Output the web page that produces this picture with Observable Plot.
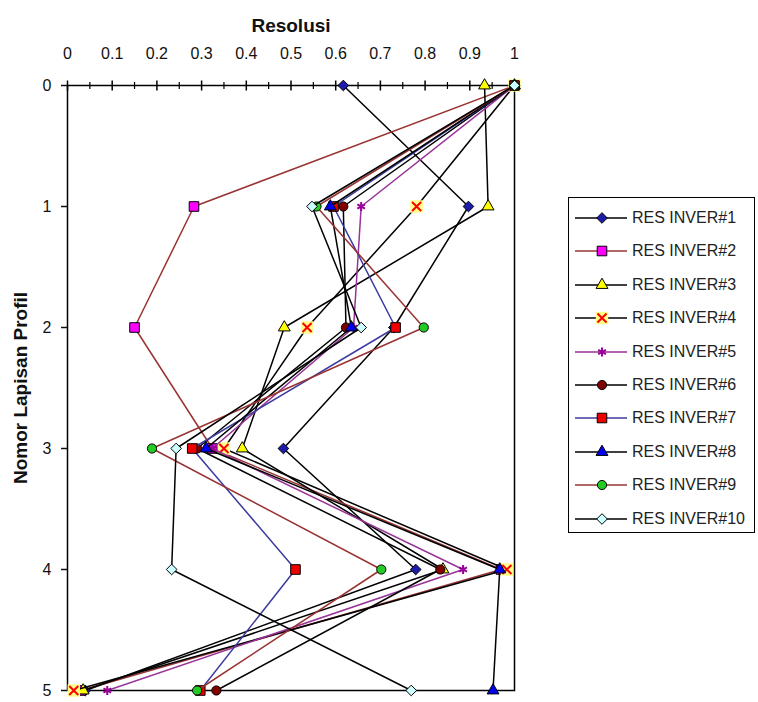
<!DOCTYPE html>
<html><head><meta charset="utf-8">
<script src="https://cdn.jsdelivr.net/npm/d3@7"></script>
<script src="https://cdn.jsdelivr.net/npm/@observablehq/plot@0.6"></script>
<style>
body{margin:0;background:#fff;font-family:"Liberation Sans",Arial,sans-serif;}
#wrap{position:relative;width:758px;height:702px;}
#legend{position:absolute;left:568px;top:197px;width:187px;height:336px;border:1.5px solid #000;box-sizing:border-box;background:#fff;}
.row{position:absolute;left:0;height:20px;width:186px;}
.row svg{position:absolute;left:0;top:0;}
.row span{position:absolute;left:63px;top:0;line-height:20px;font-size:16px;color:#222;white-space:nowrap;}
</style></head><body><div id="wrap"><div id="chart"></div><div id="legend"></div></div>
<script>
const layers = [0, 1, 2, 3, 4, 5];
const seriesNames = ["RES INVER#1","RES INVER#2","RES INVER#3","RES INVER#4","RES INVER#5","RES INVER#6","RES INVER#7","RES INVER#8","RES INVER#9","RES INVER#10"];
const res1  = [0.617, 0.897, 0.730, 0.483, 0.779, 0.040];
const res2  = [1.000, 0.283, 0.150, 0.324, 0.970, 0.030];
const res3  = [0.933, 0.941, 0.485, 0.391, 0.840, 0.035];
const res4  = [1.000, 0.781, 0.536, 0.350, 0.983, 0.014];
const res5  = [1.000, 0.657, 0.640, 0.324, 0.885, 0.089];
const res6  = [1.000, 0.617, 0.623, 0.290, 0.834, 0.333];
const res7  = [1.000, 0.595, 0.734, 0.279, 0.510, 0.297];
const res8  = [1.000, 0.588, 0.635, 0.310, 0.967, 0.952];
const res9  = [1.000, 0.557, 0.797, 0.189, 0.702, 0.290];
const res10 = [1.000, 0.547, 0.657, 0.243, 0.233, 0.769];
const xTicks = [0, 0.1, 0.2, 0.3, 0.4, 0.5, 0.6, 0.7, 0.8, 0.9, 1];
const xMinor = [0.05, 0.15, 0.25, 0.35, 0.45, 0.55, 0.65, 0.75, 0.85, 0.95];
const yTicks = [0, 1, 2, 3, 4, 5];
const xTitle = "Resolusi";
const yTitle = "Nomor Lapisan Profil";

const allSeries = [res1,res2,res3,res4,res5,res6,res7,res8,res9,res10];
const styles = [
  {line:"#000000", symbol:"diamond2", fill:"#1c1ca8", r:4.8},
  {line:"#993333", symbol:"square",   fill:"#ff00ff", r:5.4},
  {line:"#000000", symbol:"triangle", fill:"#ffff00", r:4.4},
  {line:"#000000", symbol:"times",    fill:"#ff0000", r:4.2, bg:"#ffff88"},
  {line:"#993399", symbol:"asterisk", fill:"#990099", r:4.2},
  {line:"#000000", symbol:"circle",   fill:"#800000", r:4.6},
  {line:"#3b3ba0", symbol:"square",   fill:"#ee0000", r:5.4},
  {line:"#000000", symbol:"triangle", fill:"#0000ee", r:4.4},
  {line:"#993333", symbol:"circle",   fill:"#22cc22", r:4.6},
  {line:"#000000", symbol:"diamond2", fill:"#ccffff", r:4.8}
];
const d3sym = {diamond2:d3.symbolDiamond2, square:d3.symbolSquare, triangle:d3.symbolTriangle, times:d3.symbolTimes, asterisk:d3.symbolAsterisk, circle:d3.symbolCircle};
const vtick = {draw(ctx, size){const h=Math.sqrt(size/Math.PI); ctx.moveTo(0,-h); ctx.lineTo(0,h);}};

const marks = [
  Plot.frame({stroke:"black", strokeWidth:1.5}),
  Plot.dot(xTicks, {x:d=>d, y:()=>0, symbol:vtick, r:5, stroke:"black", fill:"none", strokeWidth:1.5}),
  Plot.dot(xMinor, {x:d=>d, y:()=>0, symbol:vtick, r:3.5, stroke:"black", fill:"none", strokeWidth:1.2}),
  Plot.axisX(xTicks, {anchor:"top", tickSize:0, tickPadding:27, fontSize:16, label:null, tickFormat:d=>String(d)}),
  Plot.axisY(yTicks, {anchor:"left", tickSize:6, tickPadding:10, fontSize:16, label:null, strokeWidth:1.5, tickFormat:d=>String(d)}),
  Plot.text([xTitle], {frameAnchor:"top", dy:-67, fontSize:19, fontWeight:"bold", textAnchor:"middle"}),
  Plot.text([yTitle], {frameAnchor:"left", dx:-47, rotate:-90, fontSize:19, fontWeight:"bold", textAnchor:"middle"})
];
allSeries.forEach((vals, i) => {
  const s = styles[i];
  const data = layers.map((l, j) => ({layer:l, res:vals[j]}));
  marks.push(Plot.line(data, {x:"res", y:"layer", stroke:s.line, strokeWidth:1.5}));
  if (s.bg) {
    marks.push(Plot.dot(data, {x:"res", y:"layer", symbol:"square", r:7, fill:s.bg}));
    marks.push(Plot.dot(data, {x:"res", y:"layer", symbol:"times", r:s.r, stroke:s.fill, strokeWidth:2, fill:"none"}));
  } else if (s.symbol === "asterisk") {
    marks.push(Plot.dot(data, {x:"res", y:"layer", symbol:"asterisk", r:s.r, stroke:s.fill, strokeWidth:2, fill:"none"}));
  } else {
    marks.push(Plot.dot(data, {x:"res", y:"layer", symbol:s.symbol, r:s.r, fill:s.fill, stroke:"black", strokeWidth:1}));
  }
});

const chart = Plot.plot({
  width:758, height:702,
  marginLeft:67, marginRight:244, marginTop:85, marginBottom:12,
  style:{fontFamily:"Liberation Sans, Arial, sans-serif", fontSize:"16px", color:"#111"},
  x:{domain:[0,1]},
  y:{domain:[0,5], reverse:true},
  marks
});
document.getElementById("chart").appendChild(chart);

// legend
const legend = document.getElementById("legend");
seriesNames.forEach((name, i) => {
  const s = styles[i];
  const row = document.createElement("div");
  row.className = "row";
  row.style.top = (10 + 33.4*i) + "px";
  const ns = "http://www.w3.org/2000/svg";
  const svg = document.createElementNS(ns, "svg");
  svg.setAttribute("width", 62); svg.setAttribute("height", 20);
  const ln = document.createElementNS(ns, "line");
  ln.setAttribute("x1", 6); ln.setAttribute("x2", 58); ln.setAttribute("y1", 10); ln.setAttribute("y2", 10);
  ln.setAttribute("stroke", s.line); ln.setAttribute("stroke-width", 1.5);
  svg.appendChild(ln);
  const addPath = (type, r, attrs) => {
    const p = document.createElementNS(ns, "path");
    p.setAttribute("d", d3.symbol(d3sym[type], r*r*Math.PI)());
    p.setAttribute("transform", "translate(33,10)");
    for (const k in attrs) p.setAttribute(k, attrs[k]);
    svg.appendChild(p);
  };
  if (s.bg) {
    addPath("square", 7, {fill:s.bg});
    addPath("times", s.r, {fill:"none", stroke:s.fill, "stroke-width":2});
  } else if (s.symbol === "asterisk") {
    addPath("asterisk", s.r, {fill:"none", stroke:s.fill, "stroke-width":2});
  } else {
    addPath(s.symbol, s.r, {fill:s.fill, stroke:"black", "stroke-width":1});
  }
  row.appendChild(svg);
  const sp = document.createElement("span");
  sp.textContent = name;
  row.appendChild(sp);
  legend.appendChild(row);
});
</script></body></html>
